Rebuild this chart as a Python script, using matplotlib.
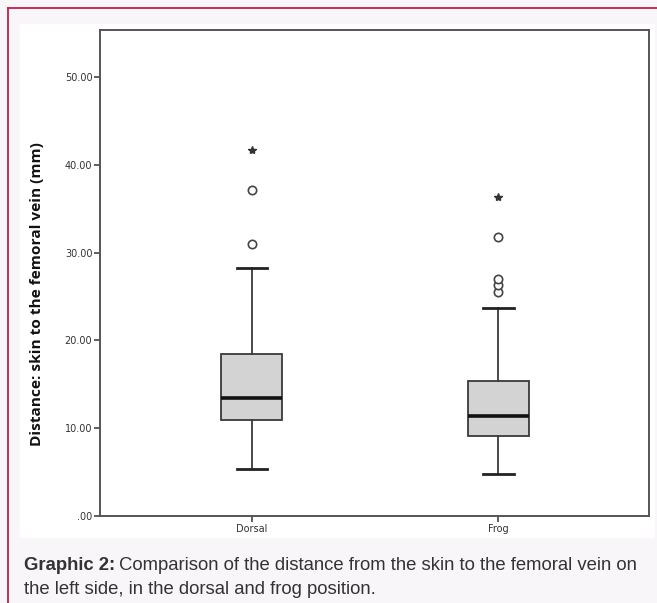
import matplotlib.pyplot as plt
from matplotlib.patches import Rectangle
from matplotlib.lines import Line2D

# values (mm)
groups = ["Dorsal", "Frog"]
whis_lo = [5.3, 4.8]
q1 = [10.9, 9.15]
medians = [13.4, 11.4]
q3 = [18.45, 15.4]
whis_hi = [28.3, 23.7]
outliers = [[31.0, 37.1], [25.5, 26.3, 27.0, 31.8]]
extremes = [[41.7], [36.3]]
yticks = [0, 10, 20, 30, 40, 50]
ytick_labels = [".00", "10.00", "20.00", "30.00", "40.00", "50.00"]

W, H = 657, 603
fig = plt.figure(figsize=(W / 100, H / 100), dpi=100, facecolor="#f8f6f8")

# white panel + red frame
fig.patches.append(Rectangle((20 / W, 1 - 538 / H), 635 / W, 514 / H,
                             transform=fig.transFigure, facecolor="white",
                             edgecolor="none", zorder=-10))
fig.lines.append(Line2D([8 / W, 1], [1 - 8 / H, 1 - 8 / H], transform=fig.transFigure,
                        color="#c41f48", lw=1.3))
fig.lines.append(Line2D([8 / W, 8 / W], [0, 1 - 8 / H], transform=fig.transFigure,
                        color="#c41f48", lw=1.3))

ax = fig.add_axes([100 / W, 1 - 516 / H, 549 / W, 486 / H])
ax.set_zorder(5)
ax.set_facecolor("white")

stats = []
for i in range(len(groups)):
    stats.append(dict(med=medians[i], q1=q1[i], q3=q3[i], whislo=whis_lo[i],
                      whishi=whis_hi[i], fliers=outliers[i], label=groups[i]))

pos = [1, 2]
ax.bxp(stats, positions=pos, widths=0.247, capwidths=0.122, patch_artist=True,
       boxprops=dict(facecolor="#d3d3d3", edgecolor="#3a3a3a", lw=1.3),
       whiskerprops=dict(color="#3a3a3a", lw=1.3),
       capprops=dict(color="#222222", lw=2.0),
       medianprops=dict(color="#111111", lw=2.6),
       flierprops=dict(marker="o", markerfacecolor="white", markeredgecolor="#444444",
                       markersize=6, markeredgewidth=1.2))

for p, ext in zip(pos, extremes):
    ax.plot([p] * len(ext), ext, linestyle="none", marker="*", color="#333333",
            markersize=6)

ax.set_xlim(0.385, 2.61)
ax.set_ylim(0, 55.35)
ax.set_yticks(yticks)
ax.set_yticklabels(ytick_labels)
ax.set_xticks(pos)
ax.set_xticklabels(groups)

narrow = ["Liberation Sans Narrow", "DejaVu Sans"]
ax.tick_params(axis="both", direction="out", color="#444444", width=1.2, length=4,
               labelsize=7, labelcolor="#333333", pad=1.5)
for lab in ax.get_yticklabels() + ax.get_xticklabels():
    lab.set_family(narrow)
for s in ax.spines.values():
    s.set_color("#555555")
    s.set_linewidth(1.4)

fig.text(37 / W, 1 - 294 / H, "Distance: skin to the femoral vein (mm)", rotation=90,
         ha="center", va="center", fontsize=11.1, fontweight="bold",
         family=["Open Sans", "DejaVu Sans"], color="#111111")

# caption
cap1 = fig.text(24 / W, 1 - 566 / H, "Graphic 2:", fontsize=13.3, fontweight="bold",
                family=["Liberation Sans", "DejaVu Sans"], va="center", color="#333333")
fig.canvas.draw()
bb = cap1.get_window_extent()
fig.text((bb.x1 + 4) / W, 1 - 566 / H,
         "Comparison of the distance from the skin to the femoral vein on",
         fontsize=13.3, family=["Liberation Sans", "DejaVu Sans"], va="center",
         color="#333333")
fig.text(24 / W, 1 - 590 / H, "the left side, in the dorsal and frog position.",
         fontsize=13.3, family=["Liberation Sans", "DejaVu Sans"], va="center",
         color="#333333")

fig.savefig("out.png", dpi=100, facecolor=fig.get_facecolor())
